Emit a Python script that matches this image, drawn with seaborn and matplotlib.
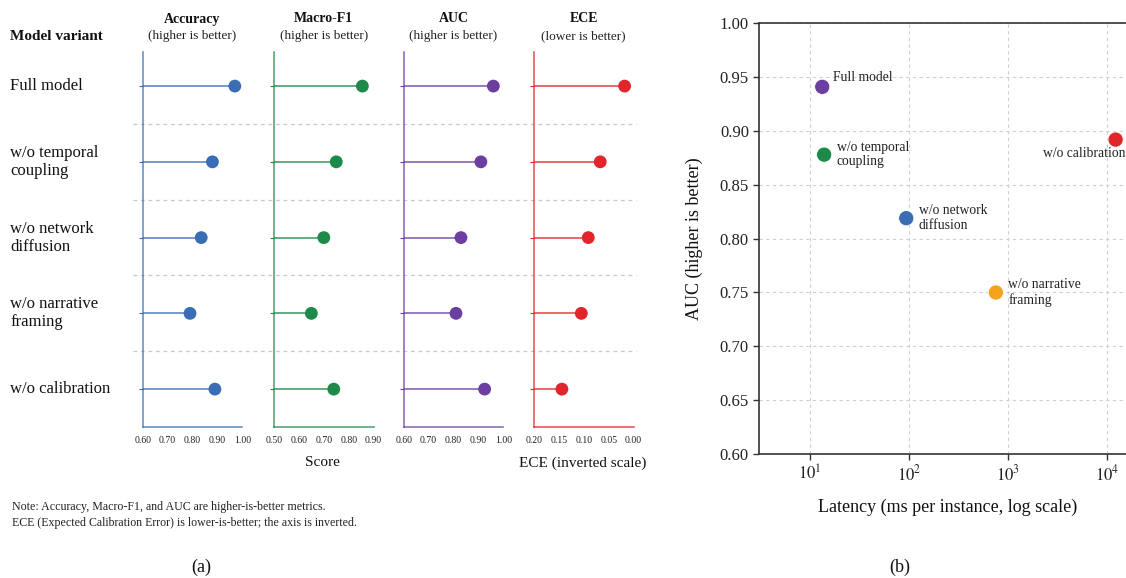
import numpy as np
import pandas as pd
import matplotlib
matplotlib.use("Agg")
import matplotlib.pyplot as plt
import matplotlib.transforms as mtransforms
import seaborn as sns

# ---------------- data ----------------
variants = ["Full model", "w/o temporal\ncoupling", "w/o network\ndiffusion",
            "w/o narrative\nframing", "w/o calibration"]
accuracy = [0.97, 0.88, 0.835, 0.79, 0.89]
macro_f1 = [0.855, 0.75, 0.70, 0.65, 0.74]
auc_a = [0.96, 0.91, 0.83, 0.81, 0.925]
ece = [0.018, 0.067, 0.091, 0.105, 0.144]

metric_names = ["Accuracy", "Macro-F1", "AUC", "ECE"]
metric_notes = ["(higher is better)", "(higher is better)", "(higher is better)", "(lower is better)"]
metric_ticks = [[0.60, 0.70, 0.80, 0.90, 1.00],
                [0.50, 0.60, 0.70, 0.80, 0.90],
                [0.60, 0.70, 0.80, 0.90, 1.00],
                [0.20, 0.15, 0.10, 0.05, 0.00]]

scatter_labels = ["Full model", "w/o temporal\ncoupling", "w/o network\ndiffusion",
                  "w/o narrative\nframing", "w/o calibration"]
latency_ms = [13.3, 13.9, 94, 757, 12300]
auc_b = [0.941, 0.878, 0.819, 0.750, 0.892]

metric_colors = ["#3A6DB4", "#1E8A49", "#6A3FA0", "#E0252B"]
point_colors = ["#6A3FA0", "#1E8A49", "#3A6DB4", "#F5A21F", "#E0252B"]

# ---------------- style ----------------
sns.set_theme(style="white")
plt.rcParams["font.family"] = ["Liberation Serif", "DejaVu Serif"]
plt.rcParams["mathtext.fontset"] = "stix"

W, H = 1126, 578
fig = plt.figure(figsize=(W / 100, H / 100), dpi=100)
fig.patch.set_facecolor("white")

def fx(px):
    return px / W

def fy(py):
    return 1 - py / H

# ---------------- panel (a) ----------------
ax_left = [142.7, 274.0, 403.7, 534.0]
ax_w = 99.6
top_px, bot_px = 52.0, 427.0
rows = np.arange(len(variants))
series = [accuracy, macro_f1, auc_a, ece]
axes_a = []
for i in range(4):
    ax = fig.add_axes([fx(ax_left[i]), fy(bot_px), ax_w / W, (bot_px - top_px) / H])
    axes_a.append(ax)
    col = metric_colors[i]
    df = pd.DataFrame({"row": rows, "val": series[i]})
    ticks = metric_ticks[i]
    base = ticks[0]
    ax.hlines(df["row"], base, df["val"], color=col, lw=1.3, alpha=0.75, zorder=2)
    sns.scatterplot(data=df, x="val", y="row", ax=ax, color=col, s=85,
                    edgecolor="none", zorder=3, legend=False)
    ax.set_xlim(ticks[0], ticks[-1])
    ax.set_ylim(4.5, -0.45)
    ax.set_xticks(ticks)
    ax.set_xticklabels([f"{t:.2f}" for t in ticks], fontsize=7, color="#222222")
    ax.set_yticks(rows)
    ax.set_yticklabels([])
    ax.set_xlabel("")
    ax.set_ylabel("")
    ax.set_facecolor("none")
    for s in ["top", "right"]:
        ax.spines[s].set_visible(False)
    for s in ["left", "bottom"]:
        ax.spines[s].set_color(col)
        ax.spines[s].set_alpha(0.75)
        ax.spines[s].set_linewidth(1.2)
    ax.tick_params(axis="x", colors=col, length=3, width=1, pad=3.5, labelcolor="#222222")
    ax.tick_params(axis="y", colors=col, length=3, width=0.8, left=True)
    # titles
    cx = fx(ax_left[i] + ax_w / 2)
    fig.text(cx, fy(19), metric_names[i], ha="center", va="center",
             fontsize=10, fontweight="bold", color="#111111")
    fig.text(cx, fy(36), metric_notes[i], ha="center", va="center",
             fontsize=9.5, color="#222222")

# dashed row separators across panel (a)
ax0 = axes_a[0]
trans = mtransforms.blended_transform_factory(fig.transFigure, ax0.transData)
for yy in [0.5, 1.5, 2.5, 3.5]:
    ax0.plot([fx(133), fx(636)], [yy, yy], transform=trans, clip_on=False,
             ls=(0, (3, 3)), lw=0.9, color="#C8C8C8", zorder=0)

# row labels
for r, lab in zip(rows, variants):
    ax0.text(fx(10), r, lab, transform=trans, ha="left", va="center",
             fontsize=12, color="#111111", linespacing=1.15)
fig.text(fx(10), fy(37), "Model variant", ha="left", va="center",
         fontsize=11, fontweight="bold", color="#111111")

fig.text(fx(322), fy(462), "Score", ha="center", va="center", fontsize=11, color="#111111")
fig.text(fx(583), fy(463), "ECE (inverted scale)", ha="center", va="center",
         fontsize=11, color="#111111")

fig.text(fx(12), fy(507),
         "Note: Accuracy, Macro-F1, and AUC are higher-is-better metrics.",
         ha="left", va="center", fontsize=8.6, color="#222222")
fig.text(fx(12), fy(523),
         "ECE (Expected Calibration Error) is lower-is-better; the axis is inverted.",
         ha="left", va="center", fontsize=8.6, color="#222222")
fig.text(fx(201), fy(567), "(a)", ha="center", va="center", fontsize=13, color="#111111")

# ---------------- panel (b) ----------------
b_left, b_right = 759.3, 1136.4
b_top, b_bot = 23.3, 454.0
axb = fig.add_axes([fx(b_left), fy(b_bot), (b_right - b_left) / W, (b_bot - b_top) / H])
dfb = pd.DataFrame({"lat": latency_ms, "auc": auc_b, "lab": scatter_labels})
axb.set_xscale("log")
sns.scatterplot(data=dfb, x="lat", y="auc", hue="lab", palette=point_colors,
                s=120, edgecolor="white", linewidth=0.6, ax=axb, legend=False, zorder=3)
axb.set_xlim(10 ** 0.4874, 10 ** 4.3)
axb.set_ylim(0.60, 1.00)
axb.set_yticks(np.arange(0.60, 1.001, 0.05))
axb.set_yticklabels([f"{v:.2f}" for v in np.arange(0.60, 1.001, 0.05)], fontsize=12)
axb.set_xticks([10, 100, 1000, 10000])
axb.set_xticklabels([r"$10^{1}$", r"$10^{2}$", r"$10^{3}$", r"$10^{4}$"], fontsize=12)
axb.minorticks_off()
axb.grid(True, ls=(0, (3, 3)), lw=0.8, color="#D0D0D0")
axb.set_axisbelow(True)
for s in ["left", "bottom", "top"]:
    axb.spines[s].set_color("#333333")
    axb.spines[s].set_linewidth(1.2)
axb.spines["right"].set_visible(False)
axb.tick_params(axis="both", length=4, width=1, color="#333333", labelcolor="#222222", left=True, bottom=True)
axb.set_xlabel("Latency (ms per instance, log scale)", fontsize=13, labelpad=10, color="#111111")
axb.set_ylabel("AUC (higher is better)", fontsize=13, labelpad=12, color="#111111")

offsets = [(8, 7, "left", "center"), (9, 0, "left", "center"), (9, 0, "left", "center"),
           (9, 0, "left", "center"), (7, -10, "right", "center")]
for (x, y, lab), (dx, dy, ha, va) in zip(zip(latency_ms, auc_b, scatter_labels), offsets):
    axb.annotate(lab, (x, y), xytext=(dx, dy), textcoords="offset points",
                 ha=ha, va=va, fontsize=9.8, color="#222222", annotation_clip=False,
                 linespacing=1.15)

fig.text(fx(900), fy(567), "(b)", ha="center", va="center", fontsize=13, color="#111111")

fig.savefig("out.png", dpi=100, facecolor="white")
